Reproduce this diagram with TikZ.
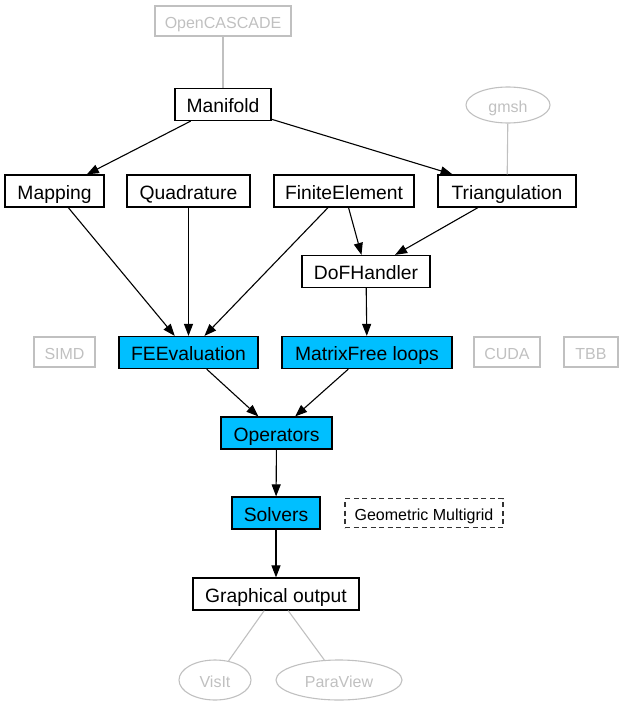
\documentclass[tikz,border=0pt]{standalone}
\usepackage{fontspec}
\setmainfont{Liberation Sans}
\usetikzlibrary{arrows.meta,shapes.geometric}
\definecolor{dealcyan}{HTML}{00BFFF}
\definecolor{extgray}{HTML}{C0C0C0}

\begin{document}
\begin{tikzpicture}[x=1pt,y=-1pt,
  box/.style={draw,line width=1.2pt,inner sep=0pt,minimum height=32pt,
    text height=16.4pt,text depth=0pt,font=\fontsize{19.3}{22}\selectfont},
  core/.style={box,fill=dealcyan},
  ext/.style={draw=extgray,text=extgray,line width=1.1pt,inner sep=0pt,minimum height=30pt,
    text height=14.6pt,text depth=0pt,font=\fontsize{16}{18}\selectfont},
  extell/.style={ext,ellipse},
  dep/.style={-{Triangle[length=12pt,width=9pt]},line width=1.1pt},
  link/.style={draw=extgray,line width=1.1pt}]
\useasboundingbox (0,0) rectangle (623,706);

% external libraries
\node [ext,minimum width=136pt] (occ) at (223,21) {OpenCASCADE};
\node [extell,minimum width=84pt,minimum height=36pt] (gmsh) at (508,105) {gmsh};
\node [ext,minimum width=61pt] (simd) at (64.5,352) {SIMD};
\node [ext,minimum width=66pt] (cuda) at (507,352) {CUDA};
\node [ext,minimum width=54pt] (tbb) at (591,352) {TBB};
\node [extell,minimum width=72pt,minimum height=40pt] (visit) at (215,680) {VisIt};
\node [extell,minimum width=126pt,minimum height=40pt] (paraview) at (339,680) {ParaView};

% deal.II modules
\node [box,minimum width=96pt] (manifold) at (223,104.5) {Manifold};
\node [box,minimum width=99pt] (mapping) at (54.5,191) {Mapping};
\node [box,minimum width=123pt] (quadrature) at (188.5,191) {Quadrature};
\node [box,minimum width=140pt] (fe) at (344,191) {FiniteElement};
\node [box,minimum width=138pt] (tria) at (507,191) {Triangulation};
\node [box,minimum width=128pt] (dofh) at (366,271.5) {DoFHandler};
\node [core,minimum width=139pt] (feeval) at (188.5,352.5) {FEEvaluation};
\node [core,minimum width=170pt] (mf) at (367,352.5) {MatrixFree loops};
\node [core,minimum width=111pt] (operators) at (276.5,433) {Operators};
\node [core,minimum width=88pt] (solvers) at (276,513) {Solvers};
\node [draw=black!80,dash pattern=on 5pt off 3.5pt,line width=1.2pt,inner sep=0pt,minimum width=158pt,minimum height=29pt,
  text height=14.6pt,text depth=0pt,font=\fontsize{16}{18}\selectfont] (gmg) at (424,513) {Geometric Multigrid};
\node [box,minimum width=166pt] (output) at (276,594) {Graphical output};

\draw [link] (occ) -- (manifold);
\draw [link] (gmsh) -- (tria);
\draw [link] (output) -- (visit);
\draw [link] (output) -- (paraview);

\draw [dep] (manifold) -- (mapping);
\draw [dep] (manifold) -- (tria);
\draw [dep] (mapping) -- (feeval);
\draw [dep] (quadrature) -- (feeval);
\draw [dep] (fe) -- (feeval);
\draw [dep] (fe) -- (dofh);
\draw [dep] (tria) -- (dofh);
\draw [dep] (dofh) -- (mf);
\draw [dep] (feeval) -- (operators);
\draw [dep] (mf) -- (operators);
\draw [dep] (operators) -- (solvers);
\draw [dep] (solvers) -- (output);
\end{tikzpicture}
\end{document}
